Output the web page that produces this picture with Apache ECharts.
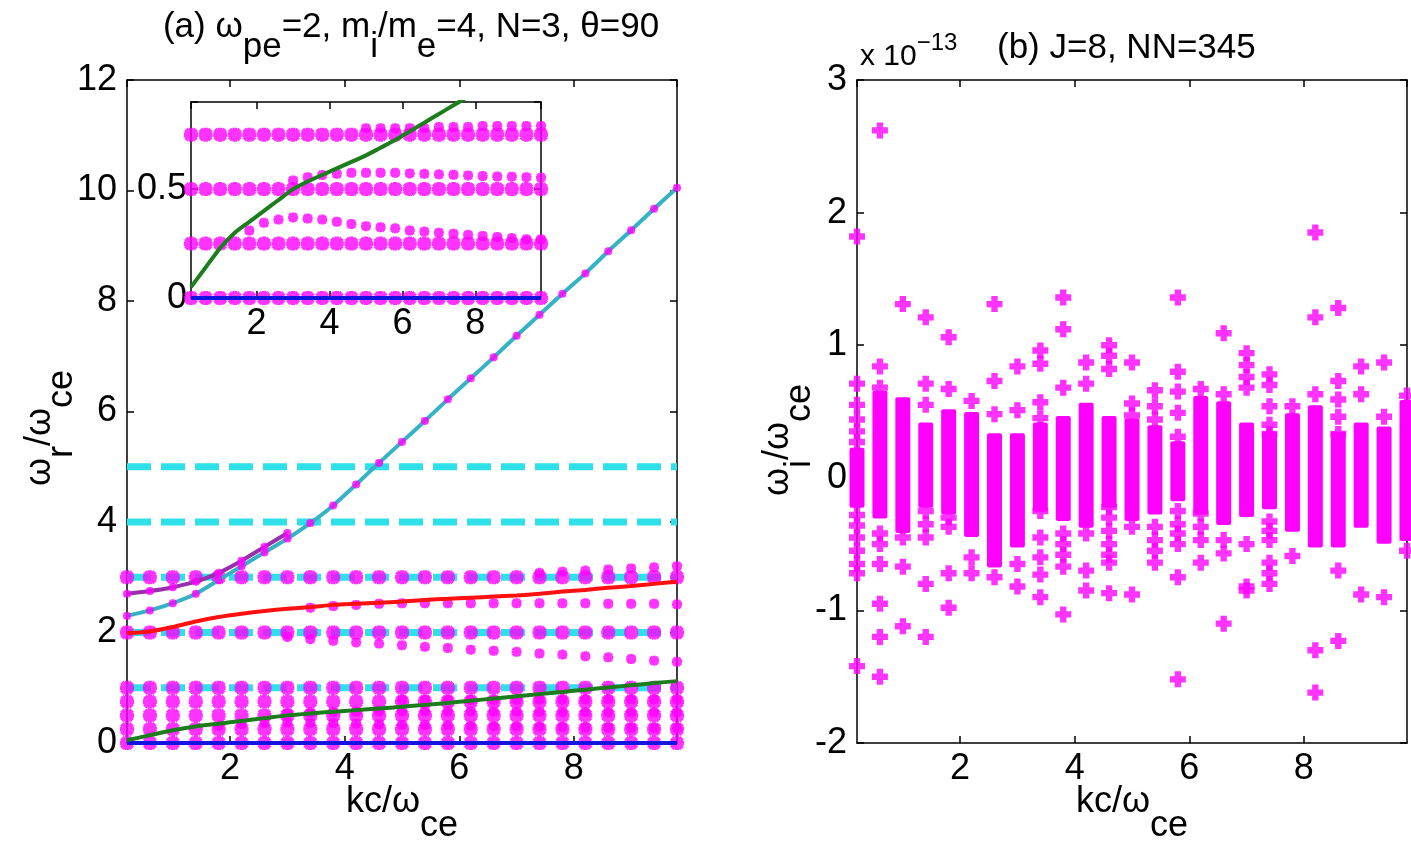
<!DOCTYPE html>
<html>
<head>
<meta charset="utf-8">
<script src="https://cdn.jsdelivr.net/npm/echarts@6/dist/echarts.min.js"></script>
<style>
  html, body { margin: 0; background: #fff; }
  #chart { width: 1411px; height: 846px; }
</style>
</head>
<body>
<div id="chart"></div>
<script>
// wave numbers kc/wce used by every branch
const kc = [0.2, 0.6, 1.0, 1.4, 1.8, 2.2, 2.6, 3.0, 3.4, 3.8, 4.2, 4.6, 5.0,
            5.4, 5.8, 6.2, 6.6, 7.0, 7.4, 7.8, 8.2, 8.6, 9.0, 9.4, 9.8];
const kEnds = [0.2, 9.8];

// (a) real frequency
const cycLevels = [1, 2, 3, 4, 5];              // electron cyclotron harmonics (dashed)
const ionRows = [0, 0.25, 0.5, 0.75, 1, 2, 3];  // rows of roots at every k
const wGreen = [0.05, 0.14, 0.23, 0.3, 0.35, 0.4, 0.45, 0.5, 0.535, 0.565, 0.595, 0.625, 0.655,
                0.69, 0.725, 0.765, 0.805, 0.845, 0.885, 0.925, 0.965, 1.005, 1.045, 1.085, 1.12];
const wRed = [1.99, 2.02, 2.1, 2.2, 2.28, 2.34, 2.39, 2.43, 2.46, 2.5, 2.52, 2.54, 2.56,
              2.59, 2.61, 2.63, 2.65, 2.67, 2.7, 2.74, 2.77, 2.81, 2.84, 2.88, 2.92];
const kPurple = [0.2, 0.6, 1.0, 1.4, 1.8, 2.2, 2.6, 3.0];
const wPurple = [2.7, 2.75, 2.82, 2.92, 3.08, 3.3, 3.55, 3.8];
const wTeal = [2.3, 2.4, 2.53, 2.7, 2.95, 3.2, 3.45, 3.7, 3.98, 4.3, 4.68, 5.07, 5.45,
               5.83, 6.22, 6.6, 6.98, 7.37, 7.75, 8.13, 8.5, 8.9, 9.28, 9.67, 10.05];
// extra roots off the harmonic rows, [k, w]
const branchA = [[1.8,0.31],[2.2,0.345],[2.6,0.36],[3.0,0.37],[3.4,0.365],[3.8,0.36],[4.2,0.35],
  [4.6,0.34],[5.0,0.33],[5.4,0.325],[5.8,0.32],[6.2,0.31],[6.6,0.305],[7.0,0.3],[7.4,0.295],
  [7.8,0.29],[8.2,0.285],[8.6,0.28],[9.0,0.275],[9.4,0.27],[9.8,0.27]];
const branchB = [[3.0,0.54],[3.4,0.555],[3.8,0.565],[4.2,0.57],[4.6,0.575],[5.0,0.575],[5.4,0.575],
  [5.8,0.575],[6.2,0.572],[6.6,0.57],[7.0,0.568],[7.4,0.566],[7.8,0.563],[8.2,0.56],[8.6,0.558],
  [9.0,0.557],[9.4,0.555],[9.8,0.553]];
const branchC = [[5.0,0.78],[5.4,0.78],[5.8,0.78],[6.2,0.78],[6.6,0.78],[7.0,0.785],[7.4,0.785],
  [7.8,0.785],[8.2,0.79],[8.6,0.79],[9.0,0.79],[9.4,0.79],[9.8,0.79]];
const branchD = [[3.0,1.92],[3.4,1.88],[3.8,1.85],[4.2,1.82],[4.6,1.8],[5.0,1.77],[5.4,1.74],
  [5.8,1.72],[6.2,1.69],[6.6,1.67],[7.0,1.65],[7.4,1.62],[7.8,1.6],[8.2,1.57],[8.6,1.55],
  [9.0,1.52],[9.4,1.49],[9.8,1.47]];
const branchE = [[3.4,2.45],[3.8,2.48],[4.2,2.5],[4.6,2.52],[5.0,2.53],[5.4,2.53],[5.8,2.53],
  [6.2,2.53],[6.6,2.53],[7.0,2.53],[7.4,2.53],[7.8,2.53],[8.2,2.53],[8.6,2.52],[9.0,2.52],
  [9.4,2.52],[9.8,2.51]];
const branchF = [[7.4,3.08],[7.8,3.1],[8.2,3.12],[8.6,3.14],[9.0,3.16],[9.4,3.18],[9.8,3.2]];

// (b) imaginary part, units of 1e-13; dense core per k plus separate roots
const coreLo = [-0.17, -0.25, -0.36, -0.17, -0.22, -0.39, -0.62, -0.47, -0.2, -0.27, -0.32, -0.17, -0.27,
                -0.22, -0.12, -0.22, -0.3, -0.24, -0.18, -0.35, -0.47, -0.47, -0.32, -0.44, -0.42];
const coreHi = [0.17, 0.6, 0.55, 0.36, 0.46, 0.44, 0.28, 0.28, 0.36, 0.41, 0.51, 0.41, 0.39,
                0.34, 0.22, 0.56, 0.52, 0.36, 0.29, 0.43, 0.49, 0.29, 0.36, 0.33, 0.53];
const extraW = [
  [1.82, 0.71, 0.55, 0.44, 0.35, 0.27, -0.28, -0.36, -0.45, -0.55, -0.65, -0.72, -1.42],
  [2.62, 0.84, 0.68, -0.42, -0.5, -0.65, -0.95, -1.2, -1.5],
  [1.31, -0.45, -0.67, -1.12],
  [1.21, 0.71, 0.55, -0.25, -0.35, -0.45, -0.8, -1.2],
  [1.06, 0.67, -0.3, -0.37, -0.72, -0.98],
  [0.58, -0.6, -0.72],
  [1.31, 0.73, 0.48, -0.75],
  [0.84, 0.51, -0.65, -0.82],
  [0.96, 0.86, 0.57, 0.45, -0.25, -0.45, -0.6, -0.73, -0.9],
  [1.36, 1.12, 0.68, -0.42, -0.5, -0.58, -0.67, -1.03],
  [0.87, 0.71, -0.42, -0.7, -0.85],
  [1.0, 0.92, 0.82, -0.22, -0.3, -0.4, -0.5, -0.58, -0.64, -0.87],
  [0.87, 0.56, 0.47, -0.37, -0.88],
  [0.66, 0.54, 0.44, -0.37, -0.47, -0.55, -0.64],
  [1.36, 0.8, 0.65, 0.49, 0.31, -0.25, -0.35, -0.42, -0.5, -0.75, -1.52],
  [0.67, -0.27, -0.37, -0.47, -0.64],
  [1.09, 0.63, -0.47, -0.57, -1.1],
  [0.94, 0.85, 0.76, 0.68, -0.5, -0.82, -0.85],
  [0.78, 0.7, 0.54, 0.4, 0.33, -0.33, -0.4, -0.47, -0.64, -0.72, -0.8],
  [0.54, -0.59],
  [1.85, 1.21, 0.63, -1.3, -1.62],
  [1.28, 0.73, 0.59, 0.46, 0.33, -0.7, -1.23],
  [0.84, 0.63, -0.88],
  [0.87, 0.46, -0.9],
  [0.62, -0.55]
];

const FONT = '"Liberation Sans", Arial, Helvetica, sans-serif';
const TICK = 36;
const MAG = '#ff00ff';
const STAR = 'path://M4,0L8,0L8,12L4,12Z M0,4L12,4L12,8L0,8Z M2.91,0.09L11.91,9.09L9.09,11.91L0.09,2.91Z M9.09,0.09L11.91,2.91L2.91,11.91L0.09,9.09Z';
const PLUS = 'path://M4.5,0L10.5,0L10.5,4.5L15,4.5L15,10.5L10.5,10.5L10.5,15L4.5,15L4.5,10.5L0,10.5L0,4.5L4.5,4.5Z';

const ctx = document.createElement('canvas').getContext('2d');
function tw(s, size) { ctx.font = size + 'px ' + FONT; return ctx.measureText(s).width; }
// text made of pieces, each shifted down by dy (subscripts / superscripts)
function pieces(parts, x, y, size, align, rot) {
  let total = 0;
  parts.forEach(p => { total += tw(p[0], p[2] || size); });
  let cx = align === 'center' ? -total / 2 : 0;
  const children = parts.map(p => {
    const s = p[2] || size;
    const el = { type: 'text', x: cx, y: p[1],
      style: { text: p[0], font: s + 'px ' + FONT, fill: '#000', textVerticalAlign: 'middle' } };
    cx += tw(p[0], s);
    return el;
  });
  return { type: 'group', x: x, y: y, rotation: rot || 0, children: children };
}

const evenLabel = v => {
  const r = Math.round(v);
  return (Math.abs(v - r) < 1e-6 && r % 2 === 0 && r > 0) ? String(r) : '';
};
const tick = { inside: true, length: 7, lineStyle: { color: '#000', width: 1.5 } };
function xAx(grid, pos, labels, margin) {
  return { type: 'value', gridIndex: grid, position: pos, min: 0.2, max: 9.8, splitNumber: 5,
    axisLine: { onZero: false, lineStyle: { color: '#000', width: 1.5 } },
    axisTick: tick, splitLine: { show: false },
    axisLabel: { show: labels, formatter: evenLabel, fontSize: TICK, fontFamily: FONT, color: '#000',
      margin: margin, showMinLabel: false, showMaxLabel: false } };
}
function yAx(grid, pos, min, max, step, labels, margin, fmt) {
  return { type: 'value', gridIndex: grid, position: pos, min: min, max: max, interval: step,
    axisLine: { onZero: false, lineStyle: { color: '#000', width: 1.5 } },
    axisTick: tick, splitLine: { show: false },
    axisLabel: { show: labels, fontSize: TICK, fontFamily: FONT, color: '#000', margin: margin,
      formatter: fmt } };
}

const rowPts = (rows) => {
  const out = [];
  rows.forEach(w => kc.forEach(k => out.push([k, w])));
  return out;
};
const pair = (ks, ws) => ks.map((k, i) => [k, ws[i]]);
const flatB = [];
extraW.forEach((list, i) => list.forEach(w => flatB.push([kc[i], w])));

const series = [];
// panel (a)
cycLevels.forEach(lv => series.push({
  type: 'line', xAxisIndex: 0, yAxisIndex: 0, data: [[kEnds[0], lv], [kEnds[1], lv]],
  symbol: 'none', silent: true, z: 1,
  lineStyle: { color: '#2ee0e8', width: 7, type: [24, 10] }
}));
series.push({ type: 'scatter', xAxisIndex: 0, yAxisIndex: 0, data: rowPts(ionRows), clip: false,
  symbol: STAR, symbolSize: 14, itemStyle: { color: MAG }, z: 2 });
series.push({ type: 'scatter', xAxisIndex: 0, yAxisIndex: 0, clip: false,
  data: [].concat(branchA, branchB, branchC, branchD, branchE, branchF),
  symbol: STAR, symbolSize: 10, itemStyle: { color: MAG }, z: 2 });
const lineS = (data, color, xi, yi, z) => ({ type: 'line', xAxisIndex: xi, yAxisIndex: yi, data: data,
  symbol: 'none', smooth: 0.2, lineStyle: { color: color, width: 4 }, z: z || 3, silent: true });
series.push(lineS([[kEnds[0], 0], [kEnds[1], 0]], '#1414e0', 0, 0));
series.push(lineS(pair(kc, wGreen), '#1c7d1c', 0, 0));
series.push(lineS(pair(kc, wRed), '#ff1010', 0, 0));
series.push(lineS(pair(kPurple, wPurple), '#9a2fae', 0, 0));
series.push(lineS(pair(kc, wTeal), '#35b2c4', 0, 0));
series.push({ type: 'scatter', xAxisIndex: 0, yAxisIndex: 0, clip: false,
  data: pair(kc, wTeal).concat(pair(kPurple, wPurple)),
  symbol: STAR, symbolSize: 8, itemStyle: { color: MAG }, z: 4 });

// inset
series.push({ type: 'scatter', xAxisIndex: 2, yAxisIndex: 2, data: rowPts([0, 0.25, 0.5, 0.75]), clip: false,
  symbol: STAR, symbolSize: 14, itemStyle: { color: MAG }, z: 2 });
series.push({ type: 'scatter', xAxisIndex: 2, yAxisIndex: 2, clip: false,
  data: [].concat(branchA, branchB, branchC),
  symbol: STAR, symbolSize: 10, itemStyle: { color: MAG }, z: 2 });
series.push(lineS([[kEnds[0], 0], [kEnds[1], 0]], '#1414e0', 2, 2));
series.push(lineS(pair(kc, wGreen), '#1c7d1c', 2, 2));

// panel (b)
series.push({ type: 'custom', xAxisIndex: 1, yAxisIndex: 1,
  data: kc.map((k, i) => [k, coreLo[i], coreHi[i]]),
  renderItem: (params, api) => {
    const top = api.coord([api.value(0), api.value(2)]);
    const bot = api.coord([api.value(0), api.value(1)]);
    return { type: 'rect', shape: { x: top[0] - 7.5, y: top[1] - 7.5, width: 15, height: bot[1] - top[1] + 15, r: 2 },
      style: { fill: MAG } };
  }, z: 2 });
series.push({ type: 'scatter', xAxisIndex: 1, yAxisIndex: 1, data: flatB, clip: false,
  symbol: PLUS, symbolSize: 16, itemStyle: { color: MAG }, z: 2 });

const graphic = [
  pieces([['(a) ω', 0], ['pe', 20], ['=2, m', 0], ['i', 20], ['/m', 0], ['e', 20], ['=4, N=3, θ=90', 0]],
    411, 27, 35, 'center'),
  pieces([['kc/ω', 0], ['ce', 24]], 402, 802, TICK, 'center'),
  pieces([['ω', 0], ['r', 22], ['/ω', 0], ['ce', 22]], 40, 428, TICK, 'center', Math.PI / 2),
  pieces([['kc/ω', 0], ['ce', 24]], 1132, 802, TICK, 'center'),
  pieces([['ω', 0], ['i', 22], ['/ω', 0], ['ce', 22]], 778, 440, TICK, 'center', Math.PI / 2),
  pieces([['x 10', 0, 30], ['−13', -14, 24]], 860, 57, 30, 'left'),
  pieces([['(b) J=8, NN=345', 0]], 997, 48, 35, 'left')
];

const option = {
  animation: false,
  backgroundColor: '#fff',
  grid: [
    { left: 127, top: 80, width: 550, height: 663 },
    { left: 857, top: 80, width: 550, height: 663 },
    { left: 191, top: 102, width: 350, height: 196, show: true, backgroundColor: '#fff', borderWidth: 0 }
  ],
  xAxis: [
    xAx(0, 'bottom', true, 8), xAx(1, 'bottom', true, 8), xAx(2, 'bottom', true, 8),
    xAx(0, 'top', false, 8), xAx(1, 'top', false, 8), xAx(2, 'top', false, 8)
  ],
  yAxis: [
    yAx(0, 'left', 0, 12, 2, true, 10),
    yAx(1, 'left', -2, 3, 1, true, 10),
    yAx(2, 'left', 0, 0.9, 0.5, true, 4, v => (v === 0 || v === 0.5) ? String(v) : ''),
    yAx(0, 'right', 0, 12, 2, false, 8),
    yAx(1, 'right', -2, 3, 1, false, 8),
    yAx(2, 'right', 0, 0.9, 0.5, false, 8)
  ],
  series: series,
  graphic: graphic
};

const chart = echarts.init(document.getElementById('chart'));
chart.setOption(option);
</script>
</body>
</html>
